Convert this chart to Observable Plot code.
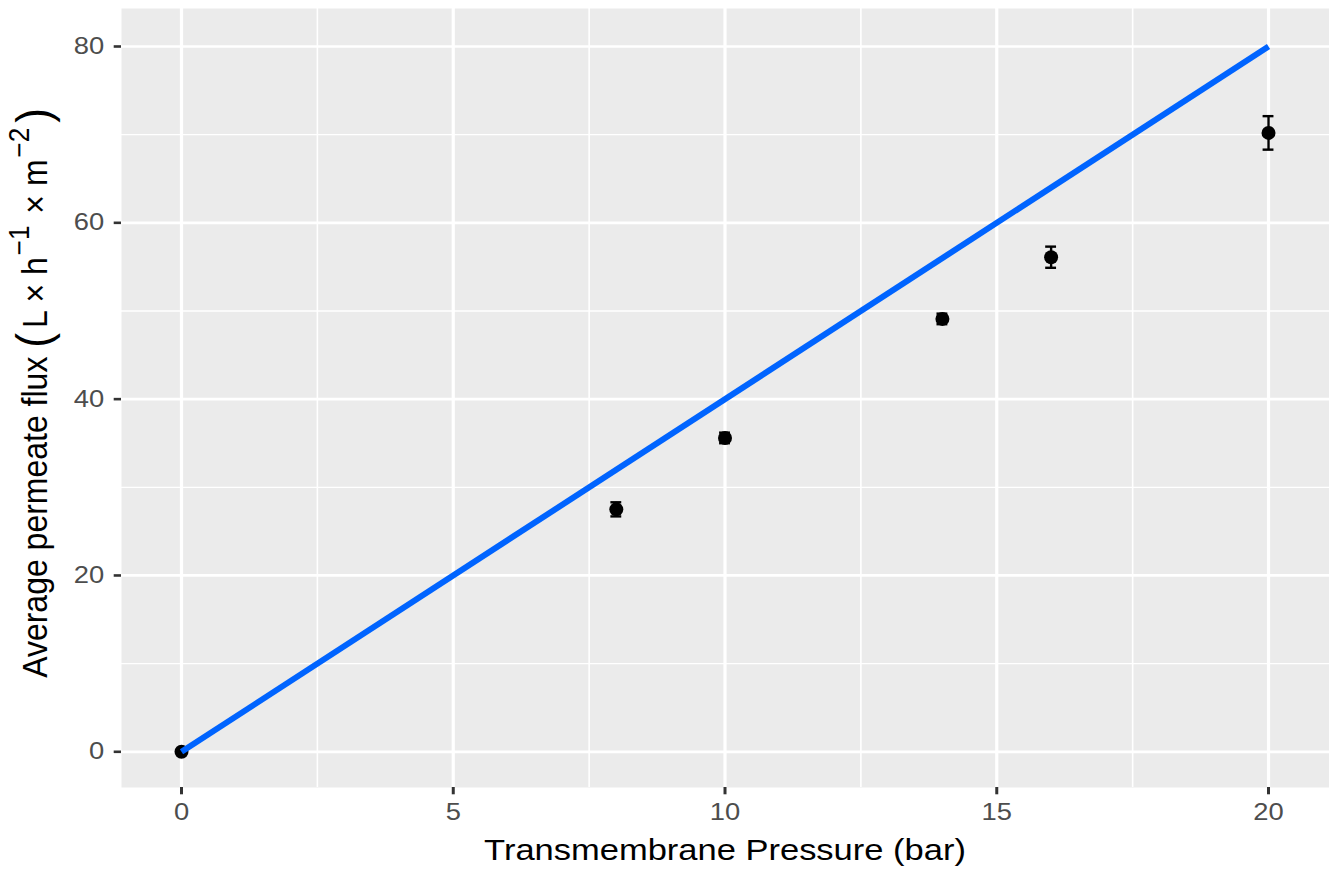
<!DOCTYPE html>
<html>
<head>
<meta charset="utf-8">
<script src="https://cdn.jsdelivr.net/npm/d3@7"></script>
<script src="https://cdn.jsdelivr.net/npm/@observablehq/plot@0.6"></script>
<style>
  html, body { margin: 0; padding: 0; background: #ffffff; }
  #chart svg { display: block; }
</style>
</head>
<body>
<div id="chart"></div>
<script>
// ---- data ----
const pressure = [0, 8, 10, 14, 16, 20];
const flux = [0, 27.5, 35.6, 49.1, 56.1, 70.2];
const fluxErr = [0, 0.8, 0.6, 0.6, 1.2, 1.9];
const idealPressure = [0, 20];
const idealFlux = [0, 80];
const xTicks = [0, 5, 10, 15, 20];
const xMinor = [2.5, 7.5, 12.5, 17.5];
const yTicks = [0, 20, 40, 60, 80];
const yMinor = [10, 30, 50, 70];
const xTitle = "Transmembrane Pressure (bar)";
const yTitleMain = "Average permeate flux ";

const points = pressure.map((p, i) => ({x: p, y: flux[i], e: fluxErr[i]}));
const ideal = idealPressure.map((p, i) => ({x: p, y: idealFlux[i]}));
const errPts = points.filter(d => d.e > 0);
const capHalf = 0.1;

const FONT = "'Liberation Sans', Arial, Helvetica, sans-serif";
const K = 1.19; // horizontal stretch of reference text

const chart = Plot.plot({
  width: 1329,
  height: 872,
  marginLeft: 121,
  marginRight: 0,
  marginTop: 8,
  marginBottom: 85,
  style: {background: "#ffffff", fontFamily: FONT},
  x: {domain: [-1.104, 21.122]},
  y: {domain: [-4.05, 84.31]},
  marks: [
    Plot.frame({fill: "#EBEBEB", stroke: null}),
    Plot.ruleX(xMinor, {stroke: "#ffffff", strokeWidth: 1.6}),
    Plot.ruleY(yMinor, {stroke: "#ffffff", strokeWidth: 1.35}),
    Plot.ruleX(xTicks, {stroke: "#ffffff", strokeWidth: 3.2}),
    Plot.ruleY(yTicks, {stroke: "#ffffff", strokeWidth: 2.7}),
    Plot.axisX(xTicks, {tickSize: 7.3, tickPadding: 9, fontSize: 23, stroke: "#333333", fill: "#4D4D4D", strokeWidth: 3, label: null, tickFormat: d => String(d)}),
    Plot.axisY(yTicks, {tickSize: 7.3, tickPadding: 10, fontSize: 23, stroke: "#333333", fill: "#4D4D4D", strokeWidth: 2.6, label: null, tickFormat: d => String(d)}),
    Plot.dot(points, {x: "x", y: "y", r: 7, fill: "#000000", stroke: null}),
    Plot.ruleX(errPts, {x: "x", y1: d => d.y - d.e, y2: d => d.y + d.e, stroke: "#000000", strokeWidth: 2.4}),
    Plot.ruleY(errPts, {y: d => d.y + d.e, x1: d => d.x - capHalf, x2: d => d.x + capHalf, stroke: "#000000", strokeWidth: 2.4}),
    Plot.ruleY(errPts, {y: d => d.y - d.e, x1: d => d.x - capHalf, x2: d => d.x + capHalf, stroke: "#000000", strokeWidth: 2.4}),
    Plot.line(ideal, {x: "x", y: "y", stroke: "#0064FF", strokeWidth: 6, strokeLinecap: "butt"})
  ]
});

document.getElementById("chart").appendChild(chart);

const svg = d3.select(chart);
// stretch tick label text horizontally around its anchor
svg.selectAll("text").each(function() {
  const t = d3.select(this);
  const tr = t.attr("transform") || "";
  const px = +(t.attr("x") || 0);
  t.attr("fill", "#4D4D4D")
   .attr("font-family", FONT)
   .attr("transform", `${tr} translate(${px},0) scale(${K},1) translate(${-px},0)`);
});

// x axis title
svg.append("text")
  .attr("transform", `translate(725,860) scale(${K},1)`)
  .attr("text-anchor", "middle")
  .attr("font-family", FONT)
  .attr("font-size", 29)
  .attr("fill", "#000000")
  .text(xTitle);

// y axis title with superscripts
const yt = svg.append("text")
  .attr("transform", `translate(47,393) rotate(-90) scale(1,1.1)`)
  .attr("text-anchor", "middle")
  .attr("font-family", FONT)
  .attr("font-size", 32)
  .attr("fill", "#000000");
yt.append("tspan").text(yTitleMain);
yt.append("tspan").attr("font-size", 44).attr("dy", 3).text("(");
yt.append("tspan").attr("dy", -3).attr("dx", 5).text("L × h");
yt.append("tspan").attr("font-size", 26).attr("dy", -16).attr("dx", 2).text("−1");
yt.append("tspan").attr("dy", 16).attr("dx", 3).text(" × m");
yt.append("tspan").attr("font-size", 26).attr("dy", -16).attr("dx", 2).text("−2");
yt.append("tspan").attr("font-size", 44).attr("dy", 19).attr("dx", 5).text(")");
</script>
</body>
</html>
